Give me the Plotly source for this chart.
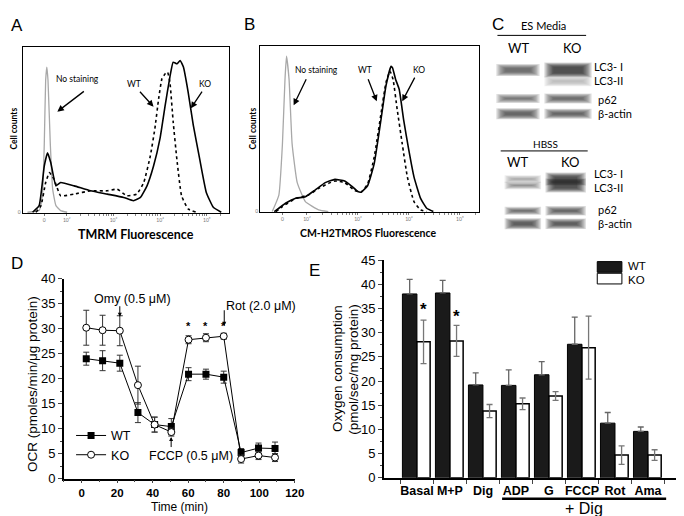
import math
import plotly.graph_objects as go

W, H = 684, 516
def px(x): return x / W
def py(y): return 1 - y / H

SANS = "Liberation Sans, Arial, sans-serif"
CAL = "Lato, Noto Sans, sans-serif"

# ---------------- DATA ----------------
# Panel A: TMRM flow histograms (x in decades, 0-marker ~1.52; y relative counts)
a_nostain_x = [1.16, 1.41, 1.48, 1.52, 1.55, 1.575, 1.60, 1.65, 1.70, 1.77, 1.87, 2.01]
a_nostain_y = [0.0, 0.01, 0.10, 0.41, 0.80, 0.88, 0.80, 0.41, 0.14, 0.04, 0.01, 0.0]
a_ko_x = [1.27, 1.41, 1.52, 1.59, 1.66, 1.77, 1.87, 2.16, 2.51, 2.87, 3.22, 3.43, 3.58, 3.72,
          3.86, 4.00, 4.11, 4.21, 4.28, 4.36, 4.43, 4.50, 4.60, 4.71, 4.85, 4.99, 5.14, 5.31]
a_ko_y = [0.0, 0.04, 0.28, 0.36, 0.30, 0.16, 0.18, 0.16, 0.13, 0.11, 0.09, 0.07, 0.09, 0.16,
          0.28, 0.45, 0.65, 0.82, 0.91, 0.90, 0.92, 0.88, 0.73, 0.53, 0.32, 0.12, 0.03, 0.0]
a_wt_x = [1.34, 1.45, 1.55, 1.63, 1.73, 1.87, 2.16, 2.51, 2.87, 3.08, 3.29, 3.50, 3.65,
          3.79, 3.89, 3.97, 4.04, 4.11, 4.16, 4.21, 4.28, 4.36, 4.46, 4.60, 4.78]
a_wt_y = [0.0, 0.04, 0.18, 0.24, 0.20, 0.10, 0.11, 0.13, 0.13, 0.14, 0.10, 0.11, 0.18,
          0.34, 0.51, 0.69, 0.81, 0.84, 0.85, 0.79, 0.55, 0.32, 0.10, 0.02, 0.0]

# Panel B: CM-H2TMROS flow histograms
b_nostain_x = [1.32, 1.45, 1.52, 1.57, 1.60, 1.65, 1.71, 1.81, 1.97, 2.23, 2.42]
b_nostain_y = [0.0, 0.10, 0.41, 0.80, 0.94, 0.80, 0.41, 0.175, 0.06, 0.01, 0.0]
b_ko_x = [1.36, 1.45, 1.58, 1.78, 1.97, 2.16, 2.36, 2.55, 2.74, 2.87, 3.00, 3.06, 3.19,
          3.32, 3.45, 3.55, 3.65, 3.68, 3.74, 3.81, 3.90, 4.00, 4.10, 4.23, 4.35, 4.48]
b_ko_y = [0.0, 0.02, 0.05, 0.08, 0.09, 0.13, 0.175, 0.195, 0.185, 0.156, 0.121, 0.117, 0.156,
          0.29, 0.55, 0.76, 0.88, 0.87, 0.80, 0.74, 0.55, 0.37, 0.21, 0.08, 0.02, 0.0]
b_wt_x = [1.39, 1.52, 1.78, 2.03, 2.23, 2.42, 2.55, 2.74, 2.94, 3.06, 3.19, 3.32, 3.45,
          3.55, 3.63, 3.69, 3.77, 3.87, 3.97, 4.10, 4.23, 4.35]
b_wt_y = [0.0, 0.03, 0.08, 0.10, 0.14, 0.17, 0.185, 0.175, 0.127, 0.117, 0.166, 0.33, 0.585,
          0.78, 0.85, 0.80, 0.62, 0.41, 0.21, 0.06, 0.01, 0.0]
flow_ticks = [1.52, 2, 3, 4, 5]
flow_ticktext = ["0", "10²", "10³", "10⁴", "10⁵"]

# Panel C: western blot band darkness (0-1) and thickness (px), rows top->bottom
blot_rows = ["LC3- I", "LC3-II", "p62", "β-actin"]
es_wt_dark = [0.72, 0.03, 0.68, 0.78]
es_ko_dark = [0.90, 0.32, 0.72, 0.78]
es_wt_thick = [7, 3, 4, 6]
es_ko_thick = [10, 5, 5, 5]
hb_wt_dark = [0.45, 0.55, 0.75, 0.82]
hb_ko_dark = [0.88, 0.88, 0.78, 0.82]
hb_wt_thick = [2.5, 2.5, 3, 6]
hb_ko_thick = [8, 9, 4.5, 5.5]

# Panel D: OCR time course
time_min = [2.6, 11.8, 21.5, 31.7, 41.1, 50.5, 60.2, 70.0, 80.0, 89.8, 99.6, 108.9]
wt_ocr = [24.0, 23.6, 23.1, 13.2, 10.8, 10.4, 20.9, 20.9, 20.3, 5.2, 6.1, 6.0]
wt_ocr_err = [1.3, 2.0, 1.6, 2.0, 1.5, 1.6, 1.3, 1.0, 1.2, 0.8, 1.0, 1.3]
ko_ocr = [30.2, 29.7, 29.6, 18.7, 10.8, 9.3, 27.8, 28.2, 28.5, 3.9, 4.6, 4.2]
ko_ocr_err = [3.5, 3.0, 3.0, 3.8, 1.5, 0.8, 0.8, 0.8, 0.6, 0.8, 0.8, 0.8]

# Panel E: oxygen consumption
e_categories = ["Basal", "M+P", "Dig", "ADP", "G", "FCCP", "Rot", "Ama"]
wt_o2 = [38.0, 38.2, 19.2, 19.1, 21.3, 27.6, 11.3, 9.6]
wt_o2_err = [3.0, 2.6, 2.5, 3.2, 2.7, 5.6, 2.2, 0.9]
ko_o2 = [28.1, 28.3, 13.8, 15.3, 16.9, 26.9, 4.7, 4.7]
ko_o2_err = [4.5, 3.2, 1.35, 1.2, 0.9, 6.5, 1.9, 1.1]

# ---------------- FIGURE ----------------
fig = go.Figure()

def flow(x, y, xa, ya, color, width, dash="solid"):
    fig.add_trace(go.Scatter(x=x, y=y, xaxis=xa, yaxis=ya, mode="lines",
                             line=dict(color=color, width=width, dash=dash, shape="spline", smoothing=0.4),
                             showlegend=False, hoverinfo="skip"))

flow(a_nostain_x, a_nostain_y, "x", "y", "#a8a8a8", 1.3)
flow(a_wt_x, a_wt_y, "x", "y", "black", 1.6, "dot")
flow(a_ko_x, a_ko_y, "x", "y", "black", 1.6)
flow(b_nostain_x, b_nostain_y, "x2", "y2", "#a8a8a8", 1.3)
flow(b_wt_x, b_wt_y, "x2", "y2", "black", 1.6, "dot")
flow(b_ko_x, b_ko_y, "x2", "y2", "black", 1.6)

# Panel C bands (layout positions in px of the panel)
es_row_y = [56.7, 68.3, 86.0, 101.7]
hb_row_y = [169.0, 175.5, 201.7, 215.0]
es_lanes = [(517.5, 21, es_wt_dark, es_wt_thick), (568.3, 23, es_ko_dark, es_ko_thick)]
hb_lanes = [(522.5, 17.5, hb_wt_dark, hb_wt_thick), (566.0, 19.5, hb_ko_dark, hb_ko_thick)]

def gray(d, a=1.0):
    g = int(round(255 * (1 - d)))
    return f"rgba({g},{g},{g},{a})"

for rows_y, lanes in ((es_row_y, es_lanes), (hb_row_y, hb_lanes)):
    for cx, half, dark, thick in lanes:
        for ry, d, t in zip(rows_y, dark, thick):
            if d < 0.05:
                continue
            # soft, tapered band built from many faint stacked strokes
            for k in range(8):
                w = max(t + 5 - 1.2 * k, 0.8)
                shrink = -1 + 1.3 * k
                fig.add_trace(go.Scatter(x=[cx - half + shrink, cx + half - shrink], y=[ry, ry],
                                         xaxis="x3", yaxis="y3", mode="lines",
                                         line=dict(color=gray(d, 0.16), width=w),
                                         showlegend=False, hoverinfo="skip"))

# Panel D
fig.add_trace(go.Scatter(x=time_min, y=wt_ocr, xaxis="x4", yaxis="y4", name="WT",
                         mode="lines+markers",
                         line=dict(color="black", width=1),
                         marker=dict(symbol="square", size=7, color="black"),
                         error_y=dict(type="data", array=wt_ocr_err, color="#333", thickness=1, width=3),
                         legend="legend"))
fig.add_trace(go.Scatter(x=time_min, y=ko_ocr, xaxis="x4", yaxis="y4", name="KO",
                         mode="lines+markers",
                         line=dict(color="black", width=1),
                         marker=dict(symbol="circle", size=7, color="white", line=dict(color="black", width=1)),
                         error_y=dict(type="data", array=ko_ocr_err, color="#333", thickness=1, width=3),
                         legend="legend"))

# Panel E
e_pos = list(range(1, len(e_categories) + 1))
fig.add_trace(go.Bar(x=e_pos, y=wt_o2, xaxis="x5", yaxis="y5", width=0.44, offset=-0.44,
                     marker=dict(color="#1a1a1a", line=dict(color="black", width=1)),
                     error_y=dict(type="data", symmetric=False, array=wt_o2_err, arrayminus=[0] * 8,
                                  color="#666", thickness=1.3, width=3),
                     showlegend=False))
fig.add_trace(go.Bar(x=e_pos, y=ko_o2, xaxis="x5", yaxis="y5", width=0.40, offset=0.0,
                     marker=dict(color="white", line=dict(color="black", width=1.5)),
                     error_y=dict(type="data", array=ko_o2_err, color="#777", thickness=1.3, width=3),
                     showlegend=False))

# ---------------- AXES ----------------
def flow_minor():
    vals = []
    for d in range(2, 6):
        for k in range(2, 10):
            v = d + math.log10(k)
            if v < 5.47:
                vals.append(v)
    return vals

flow_x_common = dict(showline=True, mirror=True, linecolor="black", linewidth=1, showgrid=False,
                     zeroline=False, tickvals=flow_ticks, ticktext=flow_ticktext, ticks="outside",
                     ticklen=2, tickcolor="#777", tickfont=dict(size=5, color="#777", family=CAL),
                     minor=dict(tickvals=flow_minor(), ticks="outside", ticklen=1.5, tickcolor="#888"))
flow_y_common = dict(showline=True, mirror=True, linecolor="black", linewidth=1, showgrid=False,
                     zeroline=False, tickvals=[0], ticktext=["0"], ticks="", range=[-0.005, 1.0],
                     tickfont=dict(size=5, color="#777", family=CAL))

fig.update_layout(
    width=W, height=H, margin=dict(l=0, r=0, t=0, b=0),
    paper_bgcolor="white", plot_bgcolor="rgba(0,0,0,0)",
    font=dict(family=SANS, color="black"),
    barmode="overlay",
    xaxis=dict(domain=[px(15), px(224)], range=[1.06, 5.47], anchor="y", **flow_x_common),
    yaxis=dict(domain=[py(204), py(33.3)], anchor="x", **flow_y_common),
    xaxis2=dict(domain=[px(256), px(477.7)], range=[1.085, 5.37], anchor="y2", **flow_x_common),
    yaxis2=dict(domain=[py(203.3), py(32.3)], anchor="x2", **flow_y_common),
    xaxis3=dict(domain=[px(490), px(684)], range=[490, 684], visible=False, anchor="y3"),
    yaxis3=dict(domain=[py(230), py(0)], range=[230, 0], visible=False, anchor="x3"),
    xaxis4=dict(domain=[px(56.7), px(291)], range=[-10, 120], anchor="y4",
                showline=True, linecolor="black", linewidth=1.5, showgrid=False, zeroline=False,
                tickvals=[0, 20, 40, 60, 80, 100, 120], ticks="outside", ticklen=3, tickwidth=1.2,
                tickfont=dict(size=11.5, family=SANS, weight="bold"),
                minor=dict(tickvals=[-10, 10, 30, 50, 70, 90, 110], ticks="outside", ticklen=2)),
    yaxis4=dict(domain=[py(477.4), py(271.7)], range=[0, 40], anchor="x4",
                showline=True, linecolor="black", linewidth=1.5, showgrid=False, zeroline=False,
                dtick=5, ticks="outside", ticklen=4, tickwidth=1.2, tickfont=dict(size=13, family=SANS),
                minor=dict(dtick=2.5, ticks="outside", ticklen=2.5)),
    xaxis5=dict(domain=[px(381.5), px(684)], range=[0, 9.03], anchor="y5",
                showline=True, linecolor="black", linewidth=1.5, showgrid=False, zeroline=False,
                tickvals=e_pos, ticktext=e_categories, ticks="",
                tickfont=dict(size=12.5, family=SANS, weight="bold"),
                minor=dict(tickvals=[p - 0.5 for p in e_pos] + [8.5], ticks="outside", ticklen=4)),
    yaxis5=dict(domain=[py(476.7), py(252.4)], range=[0, 45], anchor="x5",
                showline=True, linecolor="black", linewidth=1.5, showgrid=False, zeroline=False,
                dtick=5, ticks="outside", ticklen=4, tickwidth=1.2, tickfont=dict(size=13, family=SANS),
                minor=dict(dtick=2.5, ticks="outside", ticklen=2.5)),
    legend=dict(x=px(64), y=py(418), xanchor="left", yanchor="top", bgcolor="rgba(0,0,0,0)",
                font=dict(size=12.5, family=SANS), itemwidth=30, tracegroupgap=0),
)

ann = []
def text(x, y, s, size, family=SANS, weight="normal", xanchor="center", angle=0, color="black",
         xref="paper", yref="paper"):
    if xref == "paper":
        x = px(x)
    if yref == "paper":
        y = py(y)
    ann.append(dict(x=x, y=y, xref=xref, yref=yref, text=s, showarrow=False, xanchor=xanchor,
                    yanchor="middle", textangle=angle,
                    font=dict(size=size, family=family, color=color, weight=weight)))

def arrow(x0, y0, x1, y1, xr, yr, width=1.3, size=1.0):
    ann.append(dict(x=x1, y=y1, ax=x0, ay=y0, xref=xr, yref=yr, axref=xr, ayref=yr, text="",
                    showarrow=True, arrowhead=2, arrowsize=size, arrowwidth=width, arrowcolor="black"))

# panel letters
text(9, 11, "A", 17)
text(245, 10, "B", 17)
text(497, 10, "C", 17)
text(9, 256, "D", 17)
text(311, 263, "E", 17)

# A annotations
text(130, 226.5, "TMRM Fluorescence", 12.5, CAL, "bold")
text(6, 117, "Cell counts", 8.5, CAL, "bold", angle=-90)
text(2.24, 0.805, "No staining", 8.5, CAL, xref="x", yref="y")
text(3.45, 0.78, "WT", 8.5, CAL, xref="x", yref="y")
text(4.96, 0.78, "KO", 8.5, CAL, xref="x", yref="y")
arrow(2.40, 0.74, 1.80, 0.61, "x", "y")
arrow(3.54, 0.74, 3.86, 0.64, "x", "y")
arrow(4.92, 0.74, 4.66, 0.63, "x", "y")

# B annotations
text(365, 225, "CM-H2TMROS Fluorescence", 10.5, CAL, "bold")
text(248.5, 117, "Cell counts", 8.5, CAL, "bold", angle=-90)
text(2.19, 0.854, "No staining", 8.5, CAL, xref="x2", yref="y2")
text(3.13, 0.854, "WT", 8.5, CAL, xref="x2", yref="y2")
text(4.19, 0.854, "KO", 8.5, CAL, xref="x2", yref="y2")
arrow(2.00, 0.81, 1.74, 0.643, "x2", "y2")
arrow(3.19, 0.81, 3.37, 0.667, "x2", "y2")
arrow(4.13, 0.82, 3.87, 0.667, "x2", "y2")

# C labels
text(543, 10.5, "ES Media", 11, CAL)
text(518, 34.5, "WT", 13, CAL)
text(572, 34.5, "KO", 13, CAL)
text(545.5, 132.7, "HBSS", 10, CAL)
text(516.7, 151.7, "WT", 13, CAL)
text(570, 151.7, "KO", 13, CAL)
for (yy, s, xx) in zip([53.3, 67.7, 87.3, 101.7], blot_rows, [593, 593, 596.5, 596.5]):
    text(xx, yy, s, 11, CAL, xanchor="left")
for (yy, s, xx) in zip([163.3, 177.7, 200.0, 214.3], blot_rows, [593, 593, 596.5, 596.5]):
    text(xx, yy, s, 11, CAL, xanchor="left")

# D annotations
text(25.5, 380, "OCR (pmoles/min/μg protein)", 13.5, angle=-90)
text(174, 507, "Time (min)", 12)
text(28.7, 36.0, "Omy (0.5 μM)", 12.5, xref="x4", yref="y4")
arrow(21.5, 34.8, 21.5, 32.4, "x4", "y4", 1, 0.8)
text(61.5, 4.5, "FCCP (0.5 μM)", 12.5, xref="x4", yref="y4")
arrow(50.4, 6.0, 50.4, 8.3, "x4", "y4", 1, 0.8)
text(80.0, 34.6, "Rot (2.0 μM)", 12.5, xref="x4", yref="y4", xanchor="left")
arrow(80.3, 34.0, 80.3, 30.6, "x4", "y4", 1, 0.8)
for t in time_min[6:9]:
    text(t, 30.6, "*", 11, weight="bold", xref="x4", yref="y4")

# E annotations
text(335, 364.5, "Oxygen consumption", 13.5, angle=-90)
text(351, 364.5, "(pmol/sec/mg protein)", 13.5, angle=-90)
text(1.2, 34.8, "*", 17, weight="bold", xref="x5", yref="y5")
text(2.2, 33.4, "*", 17, weight="bold", xref="x5", yref="y5")
text(585, 508, "+ Dig", 16)
text(627, 258.5, "WT", 11.5, xanchor="left")
text(627, 272.5, "KO", 11.5, xanchor="left")

fig.update_layout(annotations=ann)

shapes = [
    dict(type="line", xref="paper", yref="paper", x0=px(496.7), x1=px(586.7), y0=py(21), y1=py(21),
         line=dict(color="black", width=1)),
    dict(type="line", xref="paper", yref="paper", x0=px(500), x1=px(588.3), y0=py(140), y1=py(140),
         line=dict(color="black", width=1)),
    dict(type="line", xref="x5", yref="paper", x0=3.58, x1=8.55, y0=py(498.3), y1=py(498.3),
         line=dict(color="black", width=2.5)),
    dict(type="rect", xref="paper", yref="paper", x0=px(598), x1=px(623), y0=py(265), y1=py(254),
         fillcolor="#1a1a1a", line=dict(color="black", width=1)),
    dict(type="rect", xref="paper", yref="paper", x0=px(598), x1=px(623), y0=py(277), y1=py(266),
         fillcolor="white", line=dict(color="black", width=1)),
]
fig.update_layout(shapes=shapes)

fig.write_html("out.html")
